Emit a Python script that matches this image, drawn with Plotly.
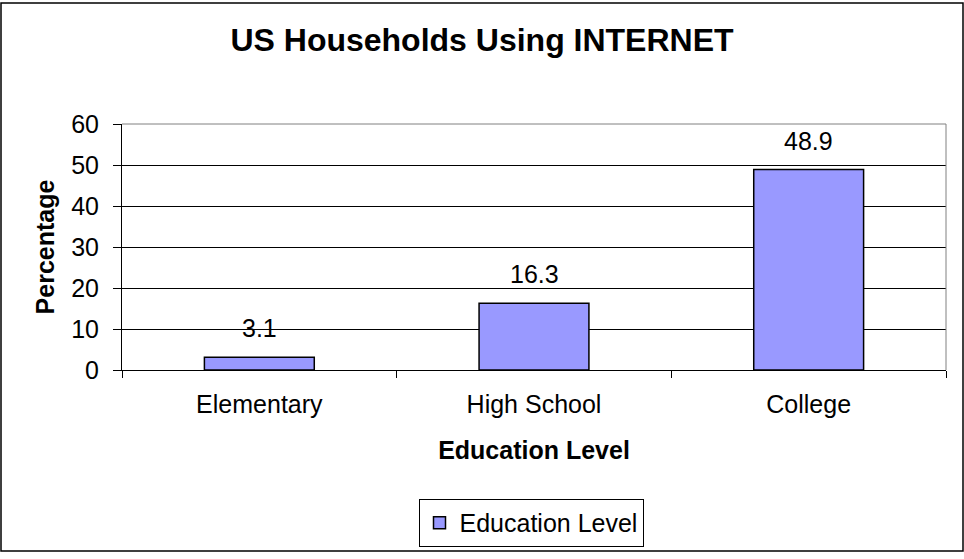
import plotly.graph_objects as go

# Data
categories = ["Elementary", "High School", "College"]
values = [3.1, 16.3, 48.9]
series_name = "Education Level"
y_ticks = [0, 10, 20, 30, 40, 50, 60]

W, H = 964, 559
ML, MR, MT, MB = 122, 18, 124, 185
PW, PH = W - ML - MR, H - MT - MB

def px_x(p):
    return (p - ML) / PW

def px_y(p):
    return (H - MB - p) / PH

FONT = "Arial, 'Liberation Sans', sans-serif"

fig = go.Figure()
fig.add_trace(go.Bar(
    x=categories, y=values, name=series_name,
    marker=dict(color="#9999FF", line=dict(color="#000000", width=1.5)),
    width=0.4,
))

for c, v in zip(categories, values):
    fig.add_annotation(x=c, y=v, text=f"{v}", showarrow=False,
                       yanchor="middle", yshift=29,
                       font=dict(family=FONT, size=25, color="#000"))

fig.update_layout(
    width=W, height=H,
    margin=dict(l=ML, r=MR, t=MT, b=MB),
    paper_bgcolor="white", plot_bgcolor="white",
    font=dict(family=FONT, color="#000"),
    title=dict(text="<b>US Households Using INTERNET</b>",
               x=0.5, xref="container", xanchor="center",
               y=1 - 40 / H, yref="container", yanchor="middle",
               font=dict(family=FONT, size=32, color="#000")),
    showlegend=True,
    legend=dict(orientation="h", x=px_x(531), xanchor="center",
                y=px_y(505), yanchor="top",
                bordercolor="#000", borderwidth=1,
                font=dict(family=FONT, size=25, color="#000")),
    xaxis=dict(range=[-0.5, 2.5], tickson="boundaries", ticks="outside",
               ticklen=7, tickcolor="#000", showline=True, linecolor="#000",
               linewidth=1, showgrid=False, ticklabelstandoff=12,
               tickfont=dict(family=FONT, size=25, color="#000"),
               title=dict(text="<b>Education Level</b>", standoff=24,
                          font=dict(family=FONT, size=25, color="#000"))),
    yaxis=dict(range=[0, 60], tickvals=y_ticks, ticks="outside", ticklen=8,
               tickcolor="#000", showline=True, linecolor="#000", linewidth=1,
               showgrid=True, gridcolor="#000", gridwidth=1, zeroline=False,
               ticklabelstandoff=9,
               tickfont=dict(family=FONT, size=25, color="#000"),
               title=dict(text="<b>Percentage</b>", standoff=9,
                          font=dict(family=FONT, size=25, color="#000"))),
    shapes=[
        dict(type="line", xref="paper", yref="paper", x0=0, x1=1, y0=1, y1=1,
             line=dict(color="#808080", width=1)),
        dict(type="line", xref="paper", yref="paper", x0=1, x1=1, y0=0, y1=1,
             line=dict(color="#808080", width=1)),
        dict(type="rect", xref="paper", yref="paper",
             x0=px_x(1), x1=px_x(963), y0=px_y(558), y1=px_y(1),
             line=dict(color="#000", width=1.5)),
    ],
)

fig.write_html("out.html", config={"displayModeBar": False},
               post_script="document.body.style.margin='0';document.body.style.overflow='hidden';")
